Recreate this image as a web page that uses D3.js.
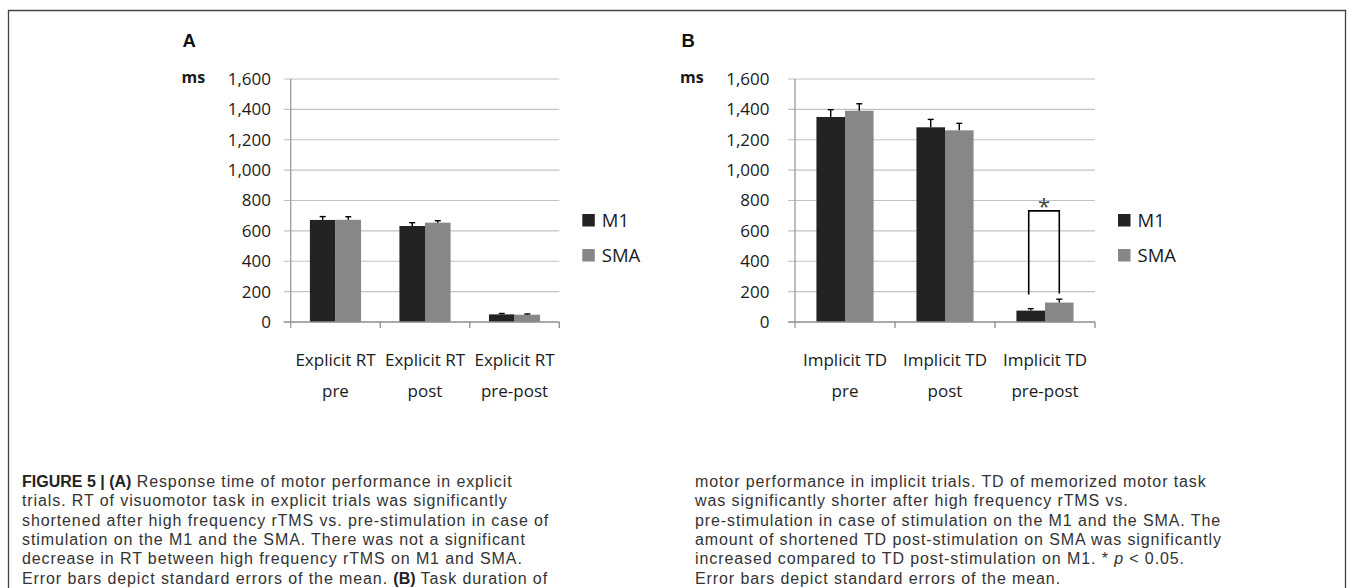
<!DOCTYPE html>
<html lang="en">
<head>
    <meta charset="UTF-8">
    <title>Figure 5</title>
    <script src="https://d3js.org/d3.v7.min.js"></script>
    <style>
        body { margin: 0; background: #fff; }
        svg text { font-family: "Open Sans", "Noto Sans", sans-serif; fill: #1a1a1a; }
        .caption text { font-family: "Liberation Sans", Arial, sans-serif; fill: #333; }
    </style>
</head>
<body>
    <svg id="chart" width="1354" height="588"></svg>
    <script>
        // Data
        const categories = ["pre", "post", "pre-post"];
        const labelsA = ["Explicit RT", "Explicit RT", "Explicit RT"];
        const labelsB = ["Implicit TD", "Implicit TD", "Implicit TD"];
        const series = ["M1", "SMA"];

        const m1A = [672, 632, 50];
        const smaA = [673, 654, 48];
        const m1ErrA = [22, 22, 6];
        const smaErrA = [20, 13, 5];

        const m1B = [1350, 1282, 75];
        const smaB = [1391, 1262, 128];
        const m1ErrB = [48, 52, 13];
        const smaErrB = [46, 46, 22];

        const yTicks = [0, 200, 400, 600, 800, 1000, 1200, 1400, 1600];

        const captionLeft = [
            [["FIGURE 5 | (A)", "b"], [" Response time of motor performance in explicit", ""]],
            [["trials. RT of visuomotor task in explicit trials was significantly", ""]],
            [["shortened after high frequency rTMS vs. pre-stimulation in case of", ""]],
            [["stimulation on the M1 and the SMA. There was not a significant", ""]],
            [["decrease in RT between high frequency rTMS on M1 and SMA.", ""]],
            [["Error bars depict standard errors of the mean. ", ""], ["(B)", "b"], [" Task duration of", ""]]
        ];
        const captionRight = [
            [["motor performance in implicit trials. TD of memorized motor task", ""]],
            [["was significantly shorter after high frequency rTMS vs.", ""]],
            [["pre-stimulation in case of stimulation on the M1 and the SMA. The", ""]],
            [["amount of shortened TD post-stimulation on SMA was significantly", ""]],
            [["increased compared to TD post-stimulation on M1. * ", ""], ["p", "i"], [" < 0.05.", ""]],
            [["Error bars depict standard errors of the mean.", ""]]
        ];

        const colors = { M1: "#232323", SMA: "#878787" };

        const svg = d3.select("#chart");

        // frame
        svg.append("path")
            .attr("d", "M8.5,600 V10.5 H1345.5 V600")
            .attr("fill", "none")
            .attr("stroke", "#444")
            .attr("stroke-width", 1.3);

        function drawPanel(p) {
            const g = svg.append("g");
            const x0 = d3.scaleBand().domain(categories).range([p.left, p.right]).padding(0);
            const x1 = d3.scaleBand().domain(series).range([0, x0.bandwidth()])
                .paddingInner(0).paddingOuter(0.75);
            const y = d3.scaleLinear().domain([0, 1600]).range([p.bottom, p.top]);

            // gridlines
            g.selectAll(".grid").data(yTicks.slice(1)).enter().append("line")
                .attr("x1", p.left - 7).attr("x2", p.right)
                .attr("y1", d => y(d)).attr("y2", d => y(d))
                .attr("stroke", "#c2c2c2").attr("stroke-width", 1.2);

            // y axis
            g.append("line")
                .attr("x1", p.left).attr("x2", p.left)
                .attr("y1", p.top).attr("y2", p.bottom + 6)
                .attr("stroke", "#9a9a9a").attr("stroke-width", 1.3);

            g.selectAll(".ytick").data(yTicks).enter().append("text")
                .attr("x", p.labelRight).attr("y", d => y(d))
                .attr("dy", "0.35em")
                .attr("text-anchor", "end")
                .style("font-size", "17px")
                .text(d3.format(","));

            g.append("text")
                .attr("x", p.msX).attr("y", 82.5)
                .style("font-size", "16px").style("font-weight", "bold")
                .text("ms");

            g.append("text")
                .attr("x", p.letterX).attr("y", 46.5)
                .style("font-family", "'Liberation Sans', Arial, sans-serif")
                .style("font-size", "18.5px").style("font-weight", "bold")
                .style("fill", "#111")
                .text(p.letter);

            // bars
            const rows = categories.map((c, i) => ({
                cat: c,
                vals: [
                    { s: "M1", v: p.m1[i], e: p.m1Err[i] },
                    { s: "SMA", v: p.sma[i], e: p.smaErr[i] }
                ]
            }));

            const grp = g.selectAll(".grp").data(rows).enter().append("g")
                .attr("transform", d => `translate(${x0(d.cat)},0)`);

            grp.selectAll("rect").data(d => d.vals).enter().append("rect")
                .attr("x", d => x1(d.s)).attr("width", x1.bandwidth())
                .attr("y", d => y(d.v)).attr("height", d => y(0) - y(d.v))
                .attr("fill", d => colors[d.s]);

            // error bars (upper only)
            const eb = grp.selectAll(".eb").data(d => d.vals).enter().append("g")
                .attr("stroke", "#000").attr("stroke-width", 1.4);
            eb.append("line")
                .attr("x1", d => x1(d.s) + x1.bandwidth() / 2)
                .attr("x2", d => x1(d.s) + x1.bandwidth() / 2)
                .attr("y1", d => y(d.v)).attr("y2", d => y(d.v + d.e));
            eb.append("line")
                .attr("x1", d => x1(d.s) + x1.bandwidth() / 2 - 3)
                .attr("x2", d => x1(d.s) + x1.bandwidth() / 2 + 3)
                .attr("y1", d => y(d.v + d.e)).attr("y2", d => y(d.v + d.e));

            // x axis
            g.append("line")
                .attr("x1", p.left - 7).attr("x2", p.right)
                .attr("y1", y(0)).attr("y2", y(0))
                .attr("stroke", "#8c8c8c").attr("stroke-width", 1.4);
            g.selectAll(".xtick").data(categories.slice(1).concat(["end"])).enter().append("line")
                .attr("x1", (d, i) => p.left + x0.step() * (i + 1))
                .attr("x2", (d, i) => p.left + x0.step() * (i + 1))
                .attr("y1", y(0)).attr("y2", y(0) + 6)
                .attr("stroke", "#8c8c8c").attr("stroke-width", 1.3);

            // category labels
            const lab = g.selectAll(".xlab").data(categories).enter().append("text")
                .attr("text-anchor", "middle")
                .style("font-size", "17px");
            lab.append("tspan")
                .attr("x", d => x0(d) + x0.bandwidth() / 2).attr("y", 366)
                .text((d, i) => p.labels[i]);
            lab.append("tspan")
                .attr("x", d => x0(d) + x0.bandwidth() / 2).attr("y", 397)
                .text(d => d);

            // legend
            const leg = g.selectAll(".leg").data(series).enter().append("g")
                .attr("transform", (d, i) => `translate(${p.right + 23},${214 + i * 35})`);
            leg.append("rect").attr("width", 12.5).attr("height", 12.5)
                .attr("fill", d => colors[d]);
            leg.append("text").attr("x", 19.5).attr("y", 13)
                .style("font-size", "18.5px").text(d => d);

            return { x0, x1, y, g };
        }

        drawPanel({
            letter: "A", letterX: 182.5, msX: 181.5,
            left: 290.7, right: 559.3, top: 79, bottom: 322, labelRight: 271,
            labels: labelsA, m1: m1A, sma: smaA, m1Err: m1ErrA, smaErr: smaErrA
        });

        const pb = drawPanel({
            letter: "B", letterX: 681.5, msX: 680,
            left: 795, right: 1095, top: 79, bottom: 322, labelRight: 769.5,
            labels: labelsB, m1: m1B, sma: smaB, m1Err: m1ErrB, smaErr: smaErrB
        });

        // significance bracket between M1 and SMA in B pre-post
        const sig = { cat: "pre-post", top: 732, legM1: 181, legSMA: 187 };
        const bx1 = pb.x0(sig.cat) + pb.x1("M1") + pb.x1.bandwidth() / 2 - 2;
        const bx2 = pb.x0(sig.cat) + pb.x1("SMA") + pb.x1.bandwidth() / 2;
        pb.g.append("path")
            .attr("d", `M${bx1},${pb.y(sig.legM1)} V${pb.y(sig.top)} H${bx2} V${pb.y(sig.legSMA)}`)
            .attr("fill", "none").attr("stroke", "#000").attr("stroke-width", 1.6);
        pb.g.append("text")
            .attr("x", (bx1 + bx2) / 2).attr("y", pb.y(sig.top) + 3)
            .attr("text-anchor", "middle")
            .style("font-size", "22px").style("fill", "#444")
            .text("*");

        // caption
        function drawCaption(lines, x) {
            const cg = svg.append("g").attr("class", "caption");
            lines.forEach((parts, i) => {
                const t = cg.append("text")
                    .attr("x", x).attr("y", 487 + i * 19.3)
                    .style("font-size", "16px")
                    .style("letter-spacing", "0.9px");
                parts.forEach(([txt, st]) => {
                    const sp = t.append("tspan").text(txt);
                    if (st === "b") sp.style("font-weight", "bold").style("fill", "#222").style("letter-spacing", "0px");
                    if (st === "i") sp.style("font-style", "italic");
                });
            });
        }
        drawCaption(captionLeft, 22);
        drawCaption(captionRight, 695);
    </script>
</body>
</html>
